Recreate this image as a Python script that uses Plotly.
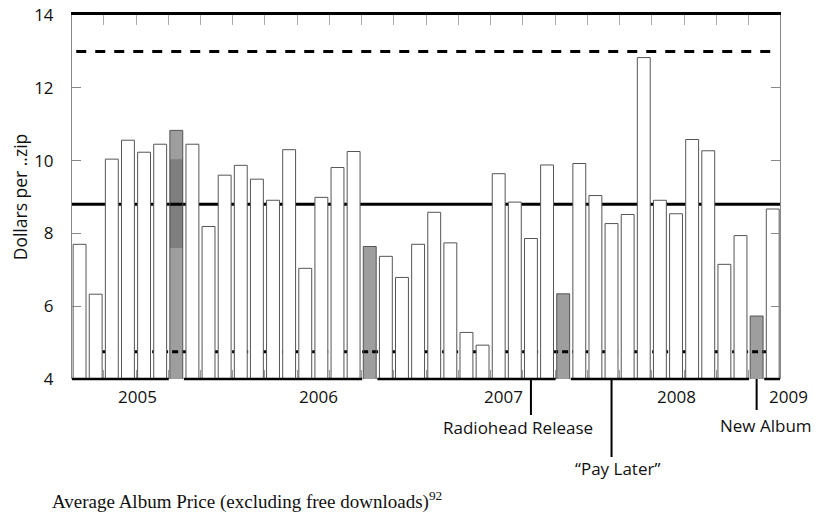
import plotly.graph_objects as go

# ---- data ----
bar_index = list(range(44))
prices = [7.70, 6.33, 10.04, 10.56, 10.23, 10.45, 10.83, 10.45, 8.19, 9.60,
          9.87, 9.49, 8.91, 10.30, 7.04, 8.99, 9.81, 10.25, 7.64, 7.37,
          6.79, 7.70, 8.58, 7.74, 5.28, 4.93, 9.64, 8.86, 7.86, 9.88,
          6.34, 9.92, 9.04, 8.27, 8.52, 12.83, 8.91, 8.54, 10.58, 10.27,
          7.15, 7.94, 5.73, 8.67]
grey_bars = [6, 18, 30, 42]
band_bar = [6]
band_low = [7.60]
band_high = [10.04]

ref_mean = 8.8
ref_high = 13.0
ref_low = 4.75
ref_low_span = [1.4, 42.6]

years = ["2005", "2006", "2007", "2008", "2009"]
year_pos = [3.6, 14.8, 26.3, 37.0, 44.0]

events = ["Radiohead Release", "\u201cPay Later\u201d", "New Album"]
event_pos = [28, 33, 42]
event_len = [36, 78, 31]      # px, line length below axis
event_text_dy = [48, 89, 46]  # px, text centre below axis
event_text_dx = [-13, 6, 9]   # px

month_ticks = [1.5 + 2 * i for i in range(21)]
y_ticks = [4, 6, 8, 10, 12, 14]

caption = "Average Album Price (excluding free downloads)<sup>92</sup>"

# ---- figure ----
FONT = "Open Sans"
xmin, xmax = -0.47, 43.45
plot_w, plot_h = 708, 364
px_per_unit = plot_w / (xmax - xmin)

fills = ["rgba(0,0,0,0.38)" if i in grey_bars else "white" for i in bar_index]

fig = go.Figure()
fig.add_trace(go.Bar(x=bar_index, y=prices, width=0.8,
                     marker=dict(color=fills, line=dict(color="#555", width=1)),
                     showlegend=False, hoverinfo="skip"))
fig.add_trace(go.Bar(x=band_bar, y=[h - l for h, l in zip(band_high, band_low)],
                     base=band_low, width=0.8,
                     marker=dict(color="rgba(0,0,0,0.2)", line=dict(width=0)),
                     showlegend=False, hoverinfo="skip"))
# invisible trace for top axis
fig.add_trace(go.Scatter(x=[xmin, xmax], y=[None, None], xaxis="x2",
                         showlegend=False, hoverinfo="skip"))

shapes = []
shapes.append(dict(type="line", xref="paper", yref="y", x0=0, x1=1,
                   y0=ref_mean, y1=ref_mean, layer="below",
                   line=dict(color="black", width=3)))
shapes.append(dict(type="line", xref="x", yref="y", x0=ref_low_span[0], x1=ref_low_span[1],
                   y0=ref_low, y1=ref_low, layer="below",
                   line=dict(color="black", width=3, dash="6px,4px")))
shapes.append(dict(type="line", xref="paper", yref="y", x0=0.006, x1=0.993,
                   y0=ref_high, y1=ref_high, layer="above",
                   line=dict(color="black", width=3, dash="10px,9px")))
starts = [xmin] + [g + 0.47 for g in grey_bars]
ends = [g - 0.47 for g in grey_bars] + [xmax]
for s, e in zip(starts, ends):
    if e > s:
        shapes.append(dict(type="line", xref="x", yref="paper", x0=s, x1=e,
                           y0=0, y1=0, layer="above",
                           line=dict(color="black", width=2.5)))
for p, L in zip(event_pos, event_len):
    shapes.append(dict(type="line", xref="x", yref="paper", x0=p, x1=p,
                       y0=0, y1=-L / plot_h, layer="above",
                       line=dict(color="black", width=2)))

annotations = []
for t, p in zip(years, year_pos):
    xa = min(p, xmax)
    annotations.append(dict(text=t, x=xa, xref="x", y=0, yref="paper",
                            xshift=(p - xa) * px_per_unit,
                            yshift=-17, showarrow=False, xanchor="center",
                            yanchor="middle", font=dict(family=FONT, size=17, color="#111")))
for t, p, dy, dx in zip(events, event_pos, event_text_dy, event_text_dx):
    annotations.append(dict(text=t, x=p, xref="x", y=0, yref="paper",
                            yshift=-dy, xshift=dx, showarrow=False, xanchor="center",
                            yanchor="middle", font=dict(family=FONT, size=17, color="#111")))
annotations.append(dict(text=caption, x=(50 - 72) / plot_w, xref="paper",
                        y=-(501 - 379) / plot_h, yref="paper", showarrow=False,
                        xanchor="left", yanchor="middle",
                        font=dict(family="Liberation Serif", size=19, color="#111")))

fig.update_layout(
    width=817, height=507,
    margin=dict(l=64, r=45, t=7, b=136, autoexpand=False),
    paper_bgcolor="white", plot_bgcolor="white",
    barmode="overlay",
    shapes=shapes, annotations=annotations,
    xaxis=dict(range=[xmin, xmax], showgrid=False, zeroline=False, showline=False,
               automargin=False,
               tickmode="array", tickvals=month_ticks, ticks="inside", ticklen=9,
               tickcolor="#999", tickwidth=1.3, showticklabels=False),
    xaxis2=dict(range=[xmin, xmax], overlaying="x", side="top", showgrid=False,
                automargin=False,
                zeroline=False, showline=True, linecolor="black", linewidth=2.5,
                tickmode="array", tickvals=month_ticks, ticks="inside", ticklen=10,
                tickcolor="#aaa", tickwidth=1.3, showticklabels=False),
    yaxis=dict(range=[4, 14], showgrid=False, zeroline=False, showline=True,
               automargin=False, ticklabeloverflow="allow",
               linecolor="#888", linewidth=1, mirror="ticks",
               tickmode="array", tickvals=y_ticks, ticks="inside", ticklen=9,
               tickcolor="#888", tickwidth=1.3, ticklabelstandoff=14,
               tickfont=dict(family=FONT, size=17, color="#111"),
               title=dict(text="Dollars per ..zip", standoff=14,
                          font=dict(family=FONT, size=17.5, color="#111"))),
)

fig.write_html("out.html")
